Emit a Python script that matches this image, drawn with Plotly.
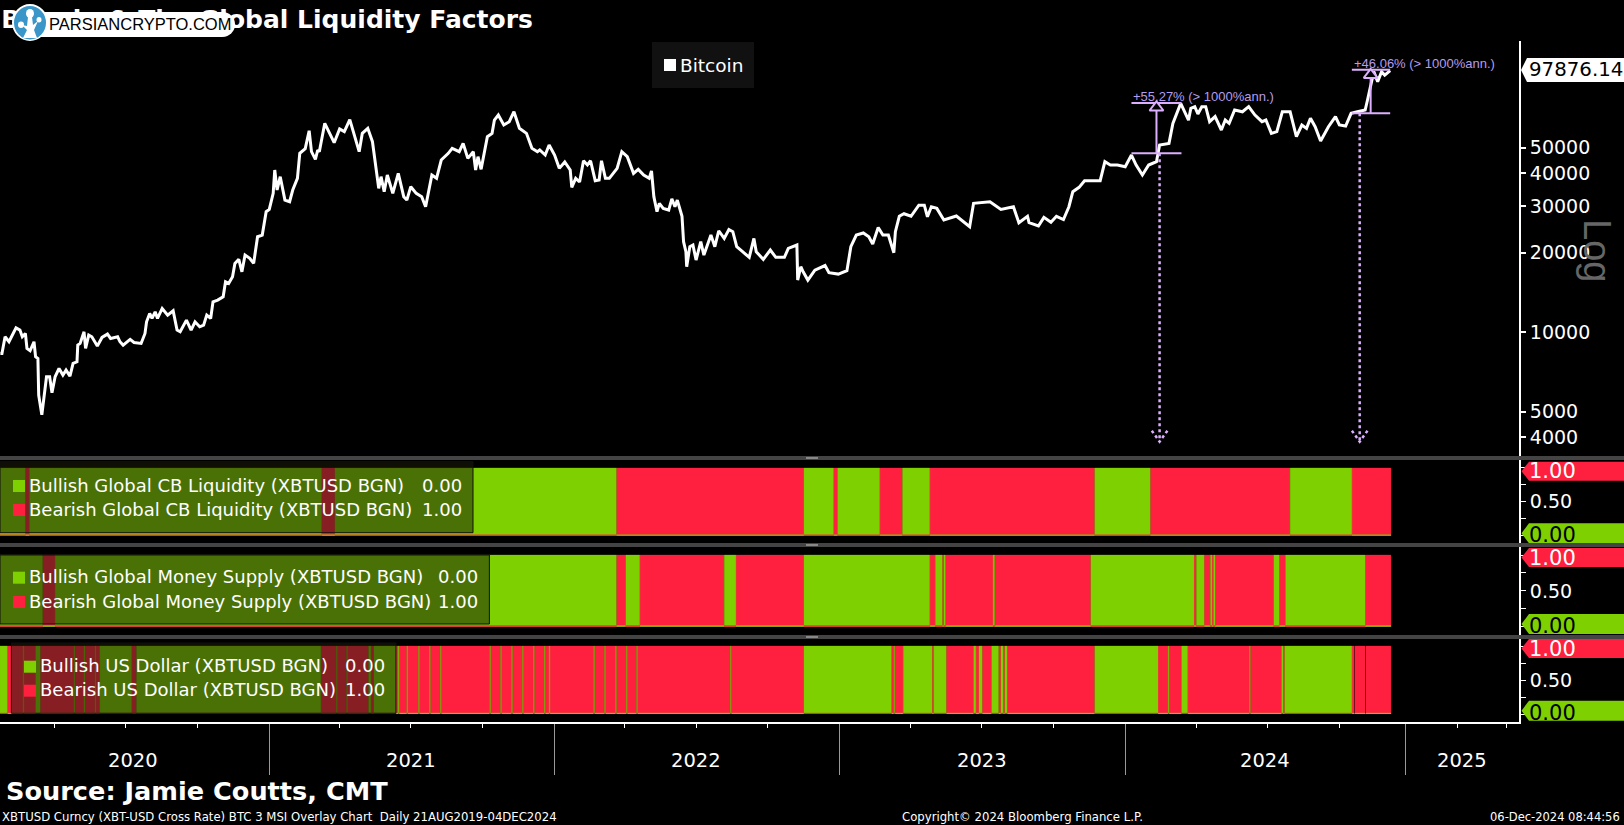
import pandas as pd
import plotly.graph_objects as go
from plotly.subplots import make_subplots

W, H = 1624, 825
FONT = "DejaVu Sans"
GREEN = "#7ed000"
RED = "#ff2040"
LILAC = "#dcb0ff"
TEXT_LILAC = "#b49cf0"

# days are counted from this date
origin = pd.Timestamp("2020-01-01")

### data
price_days = [
    22, 24, 28, 33, 42, 47, 50, 54, 56, 60, 65, 67, 70, 71, 75, 79, 81, 85, 88, 92, 97, 102, 106, 111, 115,
    120, 121, 124, 129, 131, 135, 139, 146, 152, 159, 163, 172, 175, 179, 188, 193, 202, 207, 209, 213,
    216, 220, 223, 229, 236, 243, 248, 252, 260, 266, 271, 277, 282, 286, 291, 294, 300, 307, 310, 314,
    319, 322, 327, 331, 335, 341, 346, 351, 357, 362, 366, 371, 373, 376, 380, 386, 392, 396, 402, 405,
    412, 417, 420, 425, 428, 430, 437, 442, 449, 456, 462, 469, 474, 481, 485, 492, 498, 501, 506, 509,
    513, 517, 524, 531, 538, 542, 547, 554, 561, 566, 574, 580, 586, 595, 600, 609, 614, 620, 627, 630,
    633, 637, 641, 645, 651, 654, 659, 666, 673, 679, 686, 695, 702, 709, 712, 719, 724, 731, 737, 744,
    751, 753, 758, 763, 768, 773, 777, 783, 788, 791, 796, 801, 811, 817, 824, 832, 838, 845, 852, 855,
    858, 862, 865, 870, 877, 881, 885, 888, 894, 896, 899, 900, 904, 908, 912, 918, 922, 931, 936, 941,
    948, 954, 959, 964, 970, 980, 986, 989, 998, 1007, 1014, 1025, 1030, 1041, 1042, 1046, 1049, 1055,
    1064, 1077, 1082, 1094, 1105, 1110, 1117, 1126, 1133, 1138, 1145, 1151, 1158, 1165, 1167, 1172, 1178,
    1187, 1197, 1204, 1208, 1213, 1220, 1229, 1245, 1256, 1262, 1267, 1288, 1302, 1318, 1325, 1336, 1338,
    1350, 1357, 1366, 1373, 1382, 1389, 1394, 1402, 1409, 1429, 1435, 1442, 1451, 1461, 1469, 1475, 1483,
    1491, 1501, 1505, 1517, 1522, 1526, 1532, 1542, 1545, 1550, 1554, 1559, 1564, 1569, 1576, 1584, 1589,
    1594, 1601, 1611, 1619, 1627, 1636, 1641, 1648, 1655, 1662, 1672, 1680, 1687, 1693, 1698, 1704, 1711,
    1721, 1730, 1735, 1743, 1750, 1758, 1768, 1771, 1776, 1779, 1784, 1789, 1793, 1800,
]
price_values = [
    8309, 8309, 9609, 9199, 10394, 10184, 9609, 9893, 8680, 8505, 9199, 8071, 7955, 5777, 4861, 6303, 6778,
    6778, 5895, 6778, 7290, 6877, 7184, 6815, 7616, 7727, 8936, 9067, 10038, 8680, 9750, 9609, 8858, 9553,
    9836, 9467, 9609, 9199, 8936, 9389, 9144, 9067, 9893, 10952, 11777, 11275, 11951, 11275, 12303, 11608,
    12053, 10184, 10038, 11112, 10184, 10952, 10485, 10638, 11608, 11275, 13040, 13230, 13625, 15530, 15305,
    16222, 18229, 18873, 16939, 19602, 19041, 18229, 23000, 23339, 28608, 29184, 33578, 41154, 34565, 38832,
    31670, 31214, 34565, 38273, 47597, 49586, 57987, 48294, 45165, 49003, 48294, 61838, 57510, 52220, 58900,
    57510, 63900, 56670, 48294, 56670, 59208, 52697, 44910, 35074, 38832, 34070, 39400, 33578, 39975, 32620,
    31670, 35586, 33578, 32620, 29878, 39400, 38273, 44910, 47597, 49722, 48294, 51938, 45570, 48294, 41154,
    46232, 41400, 48294, 55040, 56670, 63660, 66500, 60950, 62750, 68470, 59208, 56670, 49722, 48294, 49003,
    46910, 51190, 46910, 41760, 44170, 41154, 35380, 38273, 37074, 44630, 42996, 44630, 37500, 37720, 44630,
    38273, 38273, 41760, 48294, 46231, 39975, 41400, 39400, 38273, 40800, 32620, 28608, 30750, 29450, 29025,
    32010, 29878, 31670, 27490, 22020, 20180, 17700, 21080, 21390, 18770, 22020, 19600, 23340, 21080, 24230,
    22660, 24500, 24030, 21080, 20360, 19210, 22660, 20180, 18873, 20480, 19210, 19210, 20780, 21390, 15757,
    17700, 16939, 15757, 17190, 17890, 16800, 16600, 17100, 21080, 23340, 23770, 23000, 21570, 24940, 23340,
    23340, 20000, 24030, 27490, 28100, 27490, 30270, 30270, 27380, 29878, 29450, 26600, 27560, 25840, 25100,
    30780, 31210, 29180, 29878, 25990, 27490, 25990, 25250, 27230, 26110, 27490, 26730, 29878, 34070, 35380,
    37500, 37500, 44250, 42990, 42990, 42370, 46900, 42990, 39400, 42990, 44250, 51170, 51920, 61820, 66490,
    73630, 63600, 70500, 71500, 67100, 71500, 71500, 62740, 65580, 58350, 63650, 61830, 69450, 68400, 71500,
    66490, 62740, 63650, 56670, 57510, 68400, 68400, 55040, 60950, 59180, 64610, 60050, 52970, 60050, 65580,
    60950, 60390, 67450, 68400, 69450, 75800, 87660, 97050, 88950, 97050, 94200, 97876,
]
last_price = "97876.14"

# regime changes: G bullish, R bearish, . no value
cb_days = [21, 54, 59, 433, 450, 810, 1050, 1088, 1093, 1147, 1176, 1211, 1422, 1493, 1672, 1751, 1801]
cb_states = "GR" * 8

money_days = [21, 76, 92, 810, 822, 840, 948, 963, 1050, 1211, 1218, 1227, 1229, 1231, 1292, 1294, 1417,
              1549, 1552, 1562, 1570, 1572, 1574, 1576, 1651, 1658, 1666, 1768, 1801]
money_states = "GR" * 14

usd_days = [21, 31, 51, 52, 67, 73, 116, 117, 129, 130, 143, 144, 149, 190, 196, 432, 452, 453, 465, 466,
            493, 496, 500, 528, 531, 532, 542, 543, 557, 558, 571, 572, 585, 586, 648, 649, 662, 663, 676,
            677, 690, 691, 704, 705, 718, 719, 724, 725, 781, 782, 795, 796, 809, 810, 823, 824, 836, 837,
            956, 957, 1050, 1162, 1165, 1166, 1177, 1214, 1216, 1232, 1267, 1270, 1274, 1278, 1290, 1299,
            1302, 1305, 1307, 1310, 1422, 1503, 1516, 1517, 1533, 1541, 1620, 1621, 1661, 1663, 1665, 1751,
            1754, 1755, 1768, 1769, 1801]
usd_states = "GR" * 45 + ".R.R"

# price moves marked on the chart
move_days = [1501, 1775]
move_low = [47600, 67600]
move_high = [73900, 98700]
move_from = [1469, 1751]
move_to = [1533, 1800]
move_arrow = [71000, 94300]
move_text = ["+55.27% (> 1000%ann.)", "+46.06% (> 1000%ann.)"]
drop_days = [1505, 1761]
drop_arm = 4236
drop_tip = 3848

year_labels = ["2020", "2021", "2022", "2023", "2024", "2025"]
year_label_days = [192, 547, 912, 1278, 1640, 1892]
# the terminal squeezes the axis after the last price, so 2025 sits before Jan 1
year_ticks = ["2021-01-01", "2022-01-01", "2023-01-01", "2024-01-01", "2024-12-24"]
quarter_ticks = ["2020-04-01", "2020-07-01", "2020-10-01", "2021-04-01", "2021-07-01", "2021-10-01",
                 "2022-04-01", "2022-07-01", "2022-10-01", "2023-04-01", "2023-07-01", "2023-10-01",
                 "2024-04-01", "2024-07-01", "2024-10-01", "2025-03-01", "2025-05-03"]
price_ticks = [4000, 5000, 10000, 20000, 30000, 40000, 50000]


def to_date(days):
    return (origin + pd.to_timedelta(days, unit="D")).strftime("%Y-%m-%d %H:%M")


def px(x):
    return x / W


def py(y):
    return 1 - y / H


### plotting
fig = make_subplots(rows=5, cols=1, shared_xaxes=True)

# title sits in its own strip, as a trace so that the logo can cover part of it
fig.add_trace(go.Scatter(x=[to_date(23)], y=[0.47], mode="text", text=["<b>Bitcoin & The Global Liquidity Factors</b>"],
                         textposition="middle right", cliponaxis=False,
                         textfont=dict(family=FONT, size=25, color="white")), row=1, col=1)

fig.add_trace(go.Scatter(x=[to_date(d) for d in price_days], y=price_values, mode="lines",
                         line=dict(color="white", width=3)), row=2, col=1)

for i in range(2):
    fig.add_trace(go.Scatter(x=[to_date(drop_days[i])] * 2, y=[move_low[i], drop_tip], mode="lines",
                             line=dict(color=LILAC, width=2.5, dash="dot")), row=2, col=1)
    fig.add_trace(go.Scatter(x=[to_date(drop_days[i] - 10), to_date(drop_days[i]), to_date(drop_days[i] + 10)],
                             y=[drop_arm, drop_tip, drop_arm], mode="lines",
                             line=dict(color=LILAC, width=2.5, dash="dot")), row=2, col=1)
    fig.add_trace(go.Scatter(x=[to_date(move_days[i])] * 2, y=[move_low[i], move_high[i]], mode="lines",
                             line=dict(color=LILAC, width=2)), row=2, col=1)
    for level in [move_low[i], move_high[i]]:
        fig.add_trace(go.Scatter(x=[to_date(move_from[i]), to_date(move_to[i])], y=[level, level], mode="lines",
                                 line=dict(color=LILAC, width=2)), row=2, col=1)
    fig.add_trace(go.Scatter(x=[to_date(move_days[i])], y=[move_arrow[i]], mode="markers",
                             marker=dict(symbol="triangle-up", size=12, color="black",
                                         line=dict(color=LILAC, width=2))), row=2, col=1)


def add_blocks(days, states, state, top, color, row):
    x, y = [], []
    for i, s in enumerate(states):
        if s == state:
            start, end = to_date(days[i]), to_date(days[i + 1])
            x += [start, start, end, end, None]
            y += [0, top, top, 0, None]
    fig.add_trace(go.Scatter(x=x, y=y, mode="lines", fill="toself", fillcolor=color,
                             line=dict(color=color, width=0.3)), row=row, col=1)


def add_regime(days, states, row):
    add_blocks(days, states, "R", 1, RED, row)
    add_blocks(days, states, "G", 1, GREEN, row)
    # the series that reads 0 leaves a thin strip along the bottom
    add_blocks(days, states, "R", 0.015, GREEN, row)
    add_blocks(days, states, "G", 0.015, RED, row)


add_regime(cb_days, cb_states, 3)
add_regime(money_days, money_states, 4)
add_regime(usd_days, usd_states, 5)

### annotations and boxes
notes = []
shapes = []


def label(text, x, y, size, color="white", anchor="left", bold=False, family=FONT, **kw):
    notes.append(dict(text=f"<b>{text}</b>" if bold else text, x=px(x), y=py(y), xref="paper", yref="paper",
                      xanchor=anchor, yanchor="middle", showarrow=False,
                      font=dict(family=family, size=size, color=color), **kw))


def box(x0, y0, x1, y1, fill, line=None, kind="rect"):
    shapes.append(dict(type=kind, xref="paper", yref="paper", x0=px(x0), x1=px(x1), y0=py(y0), y1=py(y1),
                       fillcolor=fill, line=dict(color=line, width=1) if line else dict(width=0), layer="above"))


def tag(y0, y1, fill):
    ym = (y0 + y1) / 2
    shapes.append(dict(type="path", xref="paper", yref="paper", layer="above", fillcolor=fill, line_width=0,
                       path=f"M {px(1521.5)},{py(ym)} L {px(1529)},{py(y0)} L 1,{py(y0)} L 1,{py(y1)} L {px(1529)},{py(y1)} Z"))


# price legend
box(652, 42, 754, 88, "#111111")
box(664, 59, 676, 71, "white")
label("Bitcoin", 678, 65.5, 18.5)

# regime legends
legends = [
    ("Global CB Liquidity", 0, 461.7, 473, 532.7, 486, 510, 13, 27, 464),
    ("Global Money Supply", 0, 555, 489.4, 624, 577.7, 602, 13, 27, 480.5),
    ("US Dollar", 11.4, 643, 396, 713.3, 666.7, 690.7, 24, 38, 386.7),
]
for name, x0, y0, x1, y1, line1, line2, mark_x, text_x, value_x in legends:
    box(x0, y0, x1, y1, "rgba(28,28,10,0.53)", "#111111")
    box(mark_x, line1 - 6, mark_x + 12, line1 + 6, GREEN)
    box(mark_x, line2 - 6, mark_x + 12, line2 + 6, RED)
    label(f"Bullish {name} (XBTUSD BGN)", text_x, line1 - 1, 18)
    label(f"Bearish {name} (XBTUSD BGN)", text_x, line2 - 1, 18)
    label("0.00", value_x, line1 - 1, 18, anchor="right")
    label("1.00", value_x, line2 - 1, 18, anchor="right")

# value tags on the right
shapes.append(dict(type="path", xref="paper", yref="paper", layer="above", fillcolor="white", line_width=0,
                   path=f"M {px(1521)},{py(70)} L {px(1527)},{py(58)} L 1,{py(58)} L 1,{py(82)} L {px(1527)},{py(82)} Z"))
label(last_price, 1527, 70, 19.8, color="black")
for top, bottom in [(461.7, 523.3), (548, 614), (639, 700.7)]:
    tag(top, top + 19, RED)
    tag(bottom, bottom + 20, GREEN)
    label("1.00", 1527, top + 9.5, 21)
    label("0.00", 1527, bottom + 12, 21, color="black")

# panel separators with their small handles
for y in [458, 545, 637]:
    box(0, y - 2, W, y + 2, "#444444")
    box(806, y - 1, 818, y + 1, "#888888")

# move labels
label(move_text[0], 1130.5, 96.7, 13, color=TEXT_LILAC, family="Liberation Sans")
label(move_text[1], 1351.5, 63.3, 13, color=TEXT_LILAC, family="Liberation Sans")

label("Log", 1597, 250, 38, color="#666666", family="Liberation Sans", anchor="center", textangle=90)

# logo
box(40, 12, 222, 37, "white")
box(210, 12, 235, 37, "white", kind="circle")
box(12, 4, 48, 41, "white", kind="circle")
box(14, 6, 46, 39.5, "#3a95c8", kind="circle")
box(26, 9, 34, 18, "white", kind="circle")
box(36.5, 17, 41.5, 22.5, "white", kind="circle")
box(18, 21.5, 24, 28, "white", kind="circle")
shapes.append(dict(type="path", xref="paper", yref="paper", layer="above", fillcolor="white", line_width=0,
                   path=f"M {px(28)},{py(17)} L {px(32)},{py(17)} L {px(33)},{py(25)} L {px(38)},{py(21)} L {px(34)},{py(30)} "
                        f"L {px(37)},{py(38)} L {px(23)},{py(38)} L {px(27)},{py(30)} L {px(22)},{py(25)} L {px(27)},{py(26)} Z"))
label("PARSIANCRYPTO.COM", 47, 24.5, 16.5, color="black", family="Liberation Sans")

# year labels under the axis
for text, day in zip(year_labels, year_label_days):
    notes.append(dict(text=text, x=to_date(day), y=py(760), xref="x5", yref="paper", xanchor="center", yanchor="middle",
                      showarrow=False, font=dict(family=FONT, size=19.5, color="white")))

# footer
label("Source: Jamie Coutts, CMT", 4, 791, 25.6, bold=True)
label("XBTUSD Curncy (XBT-USD Cross Rate) BTC 3 MSI Overlay Chart  Daily 21AUG2019-04DEC2024", 0, 816.5, 11.7)
label("Copyright© 2024 Bloomberg Finance L.P.", 899.6, 816.5, 11.7)
label("06-Dec-2024 08:44:56", 1622, 816.5, 11.5, anchor="right")

### axes
x_right = px(1519)
fig.update_xaxes(domain=[0, x_right], range=[to_date(21.5), to_date(1964.8)], showgrid=False, zeroline=False)
for row in [1, 2, 3, 4]:
    fig.update_xaxes(showticklabels=False, ticks="", row=row, col=1)
fig.update_xaxes(row=5, col=1, showline=True, linecolor="white", linewidth=2, showticklabels=False,
                 tickmode="array", tickvals=year_ticks, ticks="outside", ticklen=51, tickcolor="#999999", tickwidth=1,
                 minor=dict(tickmode="array", tickvals=quarter_ticks, ticks="outside", ticklen=4,
                            tickcolor="white", tickwidth=1))

fig.update_yaxes(row=1, col=1, domain=[py(41), 1], range=[0, 1], visible=False)
fig.update_yaxes(row=2, col=1, type="log", domain=[py(456), py(41)], range=[3.531, 5.1032], side="right",
                 showgrid=False, zeroline=False, showline=True, linecolor="white", linewidth=2,
                 tickmode="array", tickvals=price_ticks, ticktext=[str(v) for v in price_ticks],
                 ticks="outside", ticklen=5, tickwidth=2, tickcolor="white",
                 tickfont=dict(family=FONT, size=19, color="white"))
panels = [(3, 460, 543, -0.108, 1.118), (4, 547, 635, -0.116, 1.112), (5, 639, 721.7, -0.113, 1.103)]
for row, top, bottom, lo, hi in panels:
    fig.update_yaxes(row=row, col=1, domain=[py(bottom), py(top)], range=[lo, hi], side="right", showgrid=False,
                     zeroline=False, showline=True, linecolor="white", linewidth=2, tickmode="array",
                     tickvals=[0, 0.25, 0.5, 0.75, 1], ticktext=["", "", "0.50", "", ""],
                     ticks="outside", ticklen=5, tickwidth=1, tickcolor="white",
                     tickfont=dict(family=FONT, size=19, color="white"))

fig.update_layout(width=W, height=H, margin=dict(l=0, r=0, t=0, b=0), paper_bgcolor="black", plot_bgcolor="black",
                  showlegend=False, annotations=notes, shapes=shapes)

### saving figure
fig.write_html("out.html", config=dict(displayModeBar=False),
               post_script="document.body.style.margin='0';document.body.style.overflow='hidden';")
